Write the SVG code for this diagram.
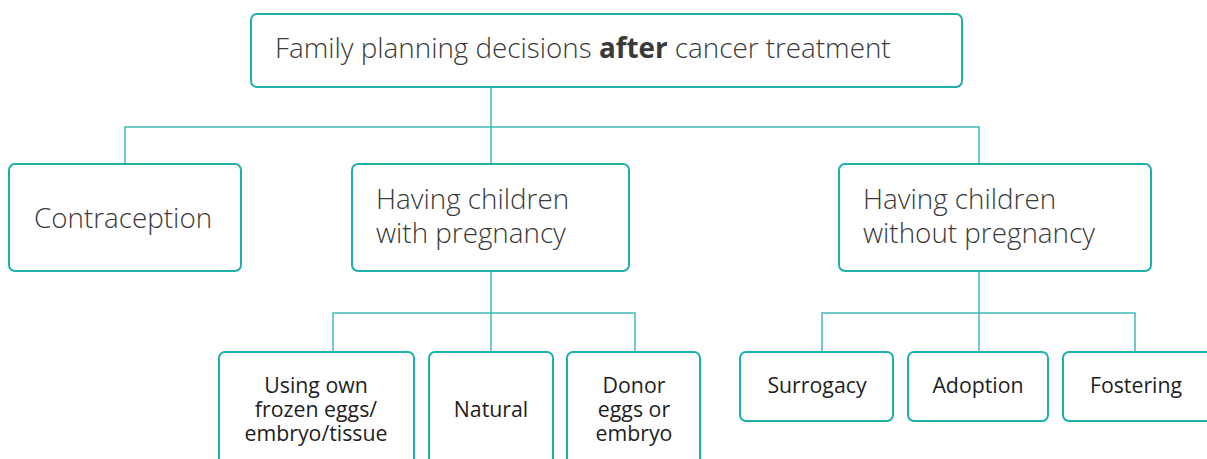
<svg xmlns="http://www.w3.org/2000/svg" width="1207" height="459" viewBox="0 0 1207 459">
<style>
.box{fill:#fff;stroke:#1eb0ab;stroke-width:2}
.ln{fill:none;stroke:#40bcb7;stroke-width:1.5}
.t1{font-family:"Open Sans","Liberation Sans",sans-serif;font-size:27.8px;font-weight:300;fill:#3a3a3a}
.t2{font-family:"Open Sans","Liberation Sans",sans-serif;font-size:21.3px;font-weight:400;fill:#1e1e1e;text-anchor:middle}
</style>
<rect width="1207" height="459" fill="#fff"/>
<g id="connectors">
<path class="ln" d="M491 87V127M125 164V127H979V164M491 127V164"/>
<path class="ln" d="M491 271V313M333 352V313H635V352M491 313V352"/>
<path class="ln" d="M979 271V313M822 352V313H1135V352M979 313V352"/>
</g>
<g id="root">
<rect class="box" x="251" y="14" width="711" height="73" rx="6"/>
<text class="t1" x="275" y="58">Family planning decisions <tspan font-weight="700">after</tspan> cancer treatment</text>
</g>
<g id="contraception">
<rect class="box" x="9" y="164" width="232" height="107" rx="6"/>
<text class="t1" x="34" y="228">Contraception</text>
</g>
<g id="with-pregnancy">
<rect class="box" x="352" y="164" width="277" height="107" rx="6"/>
<text class="t1" x="376" y="209">Having children</text>
<text class="t1" x="376" y="243">with pregnancy</text>
</g>
<g id="without-pregnancy">
<rect class="box" x="839" y="164" width="312" height="107" rx="6"/>
<text class="t1" x="863" y="209">Having children</text>
<text class="t1" x="863" y="243">without pregnancy</text>
</g>
<g id="own-frozen">
<rect class="box" x="219" y="352" width="195" height="120" rx="6"/>
<text class="t2" x="316" y="393">Using own</text>
<text class="t2" x="316" y="417">frozen eggs/</text>
<text class="t2" x="316" y="441">embryo/tissue</text>
</g>
<g id="natural">
<rect class="box" x="429" y="352" width="124" height="120" rx="6"/>
<text class="t2" x="491" y="417">Natural</text>
</g>
<g id="donor">
<rect class="box" x="567" y="352" width="133" height="120" rx="6"/>
<text class="t2" x="634" y="393">Donor</text>
<text class="t2" x="634" y="417">eggs or</text>
<text class="t2" x="634" y="441">embryo</text>
</g>
<g id="surrogacy">
<rect class="box" x="740" y="352" width="153" height="69" rx="6"/>
<text class="t2" x="817" y="393">Surrogacy</text>
</g>
<g id="adoption">
<rect class="box" x="908" y="352" width="140" height="69" rx="6"/>
<text class="t2" x="978" y="393">Adoption</text>
</g>
<g id="fostering">
<rect class="box" x="1063" y="352" width="152" height="69" rx="6"/>
<text class="t2" x="1136" y="393">Fostering</text>
</g>
</svg>
